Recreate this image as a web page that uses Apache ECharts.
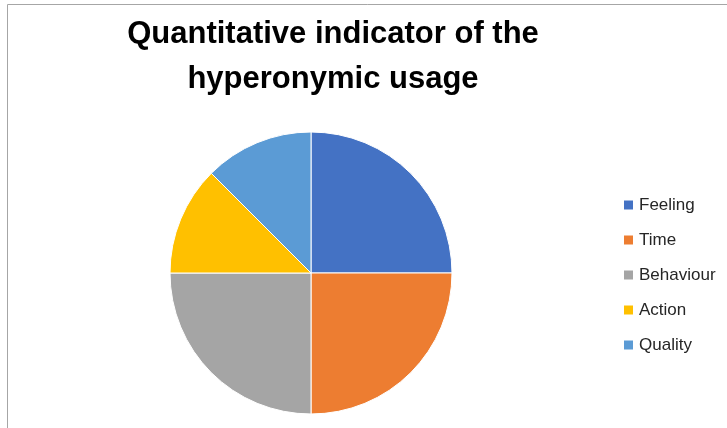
<!DOCTYPE html>
<html>
<head>
<meta charset="utf-8">
<script src="https://cdn.jsdelivr.net/npm/echarts@6/dist/echarts.min.js"></script>
<style>
  html, body { margin: 0; padding: 0; background: #fff; }
  #chart { width: 727px; height: 428px; }
</style>
</head>
<body>
<div id="chart"></div>
<script>
// Share of each hyperonym group
const categories = ['Feeling', 'Time', 'Behaviour', 'Action', 'Quality'];
const values = [25, 25, 25, 12.5, 12.5];
const colors = ['#4472C4', '#ED7D31', '#A5A5A5', '#FFC000', '#5B9BD5'];
const titleText = 'Quantitative indicator of the\nhyperonymic usage';

const chart = echarts.init(document.getElementById('chart'), null, { renderer: 'canvas' });

chart.setOption({
  animation: false,
  backgroundColor: '#ffffff',
  color: colors,
  title: {
    text: titleText,
    left: 333,
    top: 12,
    textAlign: 'center',
    padding: 0,
    textStyle: {
      fontFamily: 'Liberation Sans',
      fontWeight: 'bold',
      fontSize: 31,
      lineHeight: 45,
      color: '#000000'
    }
  },
  legend: {
    orient: 'vertical',
    left: 622,
    top: 195,
    padding: 0,
    itemWidth: 11,
    itemHeight: 11,
    itemGap: 15,
    icon: 'rect',
    textStyle: {
      fontFamily: 'Liberation Sans',
      fontSize: 17,
      lineHeight: 20,
      color: '#262626'
    },
    data: categories
  },
  graphic: [{
    type: 'rect',
    silent: true,
    shape: { x: 7.5, y: 4.5, width: 900, height: 600 },
    style: { fill: 'none', stroke: '#A6A6A6', lineWidth: 1 }
  }],
  series: [{
    type: 'pie',
    center: [311, 273],
    radius: 141,
    startAngle: 90,
    clockwise: true,
    label: { show: false },
    labelLine: { show: false },
    itemStyle: { borderColor: '#ffffff', borderWidth: 1 },
    data: categories.map((name, i) => ({ name, value: values[i] }))
  }]
});
</script>
</body>
</html>
